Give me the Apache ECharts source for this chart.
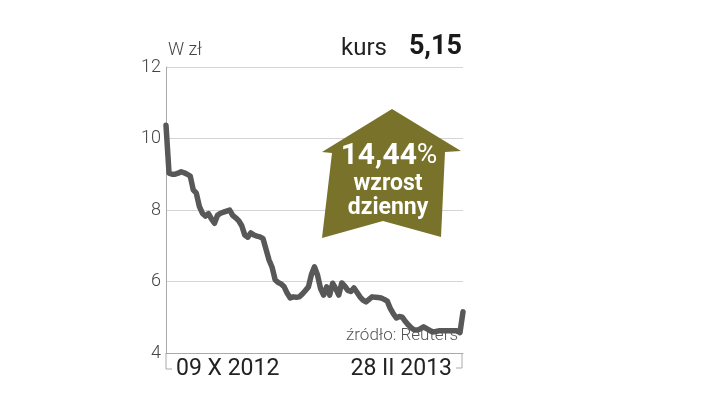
<!DOCTYPE html>
<html>
<head>
<meta charset="utf-8">
<script src="https://cdn.jsdelivr.net/npm/echarts@6/dist/echarts.min.js"></script>
<style>html,body{margin:0;padding:0;background:#fff}#c{width:720px;height:405px}</style>
</head>
<body>
<div id="c"></div>
<script>
// Daily closing price (zł), 09 X 2012 – 28 II 2013
const prices = [
  10.37, 9.03, 9.00, 9.00, 9.03, 9.07, 9.04, 9.00, 8.95, 8.56,
  8.47, 8.10, 7.91, 7.83, 7.90, 7.75, 7.63, 7.85, 7.91, 7.94,
  7.97, 8.00, 7.85, 7.78, 7.70, 7.56, 7.30, 7.24, 7.36, 7.30,
  7.27, 7.25, 7.20, 6.90, 6.60, 6.40, 6.05, 5.97, 5.93, 5.85,
  5.67, 5.54, 5.57, 5.56, 5.57, 5.65, 5.75, 5.85, 6.20, 6.41,
  6.18, 5.80, 5.62, 5.85, 5.62, 5.95, 5.80, 5.62, 5.96, 5.87,
  5.75, 5.72, 5.82, 5.70, 5.57, 5.48, 5.43, 5.50, 5.57, 5.56,
  5.55, 5.54, 5.50, 5.45, 5.25, 5.10, 4.98, 5.02, 5.00, 4.88,
  4.78, 4.70, 4.64, 4.64, 4.68, 4.73, 4.68, 4.63, 4.59, 4.60,
  4.62, 4.62, 4.62, 4.62, 4.62, 4.62, 4.62, 4.57, 5.15
];
const days = prices.map((_, i) => i);
const dateLabels = ['09 X 2012', '28 II 2013'];
const yMin = 4, yMax = 12, yStep = 2;
const unitLabel = 'W zł';
const kursLabel = 'kurs';
const kursValue = '5,15';
const changeValue = '14,44';
const changeText = ['wzrost', 'dzienny'];
const sourceLabel = 'źródło: Reuters';

const chart = echarts.init(document.getElementById('c'), null, {renderer: 'canvas'});
const last = days.length - 1;
const FONT = 'Roboto, "Liberation Sans", sans-serif';

chart.setOption({
  animation: false,
  backgroundColor: '#ffffff',
  grid: {left: 166, right: 257, top: 67, bottom: 52, containLabel: false, outerBoundsMode: 'none'},
  xAxis: {
    type: 'category',
    data: days,
    boundaryGap: false,
    axisLine: {show: true, lineStyle: {color: '#aaaaaa', width: 1}},
    axisTick: {show: false},
    splitLine: {show: false},
    axisLabel: {
      show: true,
      interval: (i) => i === 0 || i === last,
      formatter: (v, i) => (i === 0 ? dateLabels[0] : (i === last ? dateLabels[1] : '')),
      alignMinLabel: 'left',
      alignMaxLabel: 'right',
      padding: [0, 11, 0, 10],
      margin: 5,
      fontFamily: FONT,
      fontSize: 23,
      color: '#222222'
    }
  },
  yAxis: {
    type: 'value',
    min: yMin, max: yMax, interval: yStep,
    axisLine: {show: true, lineStyle: {color: '#aaaaaa', width: 1}},
    axisTick: {show: false},
    splitLine: {show: true, lineStyle: {color: '#d4d4d4', width: 1}},
    axisLabel: {
      margin: 5,
      fontFamily: FONT,
      fontWeight: 300,
      fontSize: 18,
      color: '#444444'
    }
  },
  series: [{
    type: 'line',
    data: prices,
    symbol: 'none',
    smooth: false,
    lineStyle: {color: '#585858', width: 5.5, join: 'round', cap: 'round'},
    z: 3
  }],
  graphic: [
    {type: 'text', left: 168, top: 41, style: {text: unitLabel, font: '300 18px ' + FONT, fill: '#444'}},
    {type: 'text', right: 333, top: 37, style: {text: kursLabel, font: '400 24px ' + FONT, fill: '#222'}},
    {type: 'text', right: 258, top: 34, style: {text: kursValue, font: '700 27px ' + FONT, fill: '#1a1a1a'}},
    {type: 'text', right: 262, top: 327, z: 10, style: {text: sourceLabel, font: '300 17px ' + FONT, fill: '#555'}},
    {type: 'polyline', z: 5, shape: {points: [[166, 353], [166, 369], [172, 369]]}, style: {stroke: '#aaaaaa', lineWidth: 1, fill: null}},
    {type: 'polyline', z: 5, shape: {points: [[462, 353], [462, 368], [456, 368]]}, style: {stroke: '#aaaaaa', lineWidth: 1, fill: null}},
    {type: 'polygon', z: 6, shape: {points: [[392, 109], [461, 151], [445, 152], [441, 237], [383, 221], [322, 238], [332, 153], [322, 152]]},
      style: {fill: '#78722b'}},
    {type: 'text', z: 7, x: 389, y: 156, style: {
      text: '{a|' + changeValue + '}{b|%}', align: 'center', verticalAlign: 'middle',
      rich: {a: {font: '700 30px ' + FONT, fill: '#ffffff'}, b: {font: '400 28px ' + FONT, fill: '#ffffff'}}
    }},
    {type: 'text', z: 7, x: 388, y: 184, style: {text: changeText[0], align: 'center', verticalAlign: 'middle', font: '700 23px ' + FONT, fill: '#ffffff'}},
    {type: 'text', z: 7, x: 388, y: 208, style: {text: changeText[1], align: 'center', verticalAlign: 'middle', font: '700 23px ' + FONT, fill: '#ffffff'}}
  ]
});
</script>
</body>
</html>
